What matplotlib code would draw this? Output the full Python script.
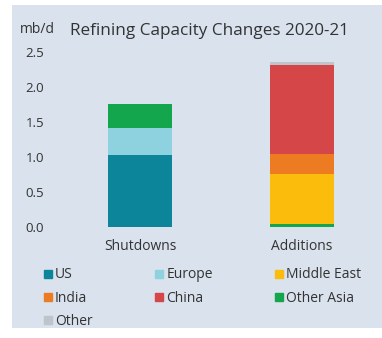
import numpy as np
import matplotlib.pyplot as plt
from matplotlib.patches import Rectangle
from matplotlib.lines import Line2D

plt.rcParams['font.family'] = ['Open Sans', 'DejaVu Sans']

categories = ['Shutdowns', 'Additions']
# stacked bottom-to-top in this order per bar
stack_order = {
    'Shutdowns': ['US', 'Europe', 'Other Asia'],
    'Additions': ['Other Asia', 'Middle East', 'India', 'China', 'Other'],
}
values = {
    'Shutdowns': {'US': 1.03, 'Europe': 0.38, 'Other Asia': 0.35},
    'Additions': {'Other Asia': 0.04, 'Middle East': 0.72, 'India': 0.28,
                  'China': 1.27, 'Other': 0.05},
}
colors = {
    'US': '#0c8499',
    'Europe': '#8ed2e0',
    'Middle East': '#fbbc0c',
    'India': '#ec7b22',
    'China': '#d44648',
    'Other Asia': '#14a64c',
    'Other': '#bfc4ca',
}
bg = '#d9e2ed'

W, H = 382, 338
fig = plt.figure(figsize=(W / 100, H / 100), dpi=100)
fig.patch.set_facecolor('white')
fig.patches.append(Rectangle((12 / W, 10 / H), 1 - 12 / W, 323 / H,
                             transform=fig.transFigure, facecolor=bg,
                             edgecolor='none', zorder=-5))

ax = fig.add_axes([67 / W, 111 / H, 308 / W, 175 / H])
ax.set_zorder(2)
ax.set_facecolor('none')
x = np.arange(len(categories))
for i, cat in enumerate(categories):
    bottom = 0
    for reg in stack_order[cat]:
        v = values[cat][reg]
        ax.bar(x[i], v, bottom=bottom, width=0.4, color=colors[reg])
        bottom += v

ax.set_xlim(-0.45, 1.45)
ax.set_ylim(0, 2.5)
ax.set_yticks(np.arange(0, 2.6, 0.5))
ax.set_yticklabels(['%.1f' % t for t in np.arange(0, 2.6, 0.5)])
for lab in ax.get_yticklabels():
    lab.set_ha('left')
ax.tick_params(axis='y', length=0, pad=30, labelsize=9.5, labelcolor='#333333')
ax.set_xticks(x)
ax.set_xticklabels(categories)
ax.tick_params(axis='x', length=0, pad=9, labelsize=10, labelcolor='#333333')
for s in ax.spines.values():
    s.set_visible(False)

fig.text(20 / W, 1 - 33 / H, 'mb/d', fontsize=10, color='#333333')
fig.text(70 / W, 1 - 35 / H, 'Refining Capacity Changes 2020-21',
         fontsize=12.3, color='#333333')

leg_order = ['US', 'India', 'Other', 'Europe', 'China', 'Middle East', 'Other Asia']
handles = [Line2D([], [], marker='s', linestyle='none', markersize=6,
                  color=colors[r]) for r in leg_order]
leg = fig.legend(handles, leg_order, ncol=3, frameon=False, fontsize=10,
                 loc='upper left', bbox_to_anchor=(30 / W, 1 - 255 / H),
                 handletextpad=0.1, columnspacing=4.4, labelspacing=0.6,
                 handlelength=0.8, labelcolor='#333333')
leg.set_zorder(3)

fig.savefig('out.png', dpi=100)
